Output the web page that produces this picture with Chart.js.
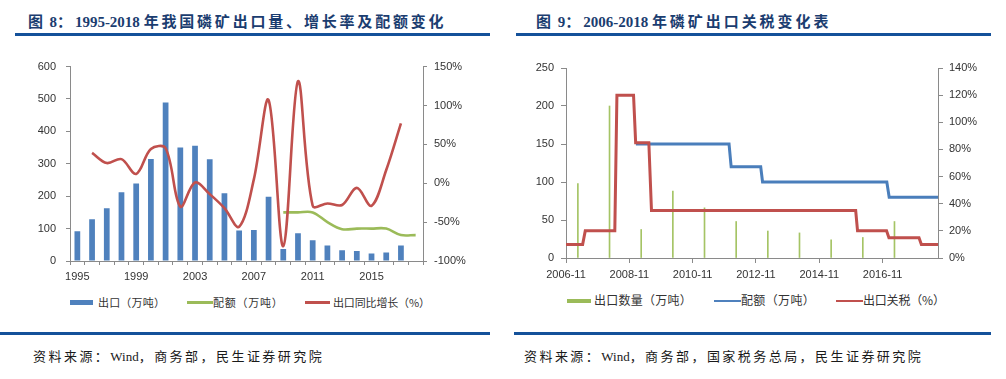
<!DOCTYPE html>
<html><head><meta charset="utf-8">
<script src="https://cdn.jsdelivr.net/npm/chart.js@4.4.1/dist/chart.umd.min.js"></script>
<style>
html,body{margin:0;padding:0;}
body{width:1006px;height:379px;background:#fff;position:relative;overflow:hidden;font-family:"Liberation Sans","Noto Sans CJK SC",sans-serif;}
.t{position:absolute;white-space:nowrap;}
.title{font-family:"Liberation Serif","Noto Sans CJK SC",serif;font-weight:bold;font-size:15px;color:#1b3d70;line-height:18px;}
.rule{position:absolute;height:3px;background:#14519a;}
.src{font-family:"Liberation Serif","Noto Sans CJK SC",serif;font-size:13px;color:#1a1a1a;line-height:16px;}
.leg{font-family:"Noto Sans CJK SC",sans-serif;color:#333;line-height:14px;}
.sw{position:absolute;}
.cv{position:absolute;}
.lat{letter-spacing:0px !important;}
</style></head><body>

<div class="t title fit" data-w="417" style="left:28px;top:13px;">图 8：1995-2018 年我国磷矿出口量、增长率及配额变化</div>
<div class="rule" style="left:15px;top:33px;width:475px;"></div>
<div class="t title fit" data-w="294" style="left:536px;top:13px;">图 9：2006-2018 年磷矿出口关税变化表</div>
<div class="rule" style="left:516px;top:33px;width:475px;"></div>

<canvas id="c1" class="cv" width="500" height="236" style="left:0px;top:50px;"></canvas>
<canvas id="c2" class="cv" width="501" height="236" style="left:505px;top:50px;"></canvas>

<!-- left legend -->
<div class="sw" style="left:70px;top:300px;width:23px;height:5px;background:#4f81bd;"></div>
<div class="t leg fit" data-w="67" style="left:98px;top:295px;font-size:11px;">出口（万吨）</div>
<div class="sw" style="left:187px;top:301px;width:26px;height:2.5px;background:#9bbb59;"></div>
<div class="t leg fit" data-w="70" style="left:213px;top:295px;font-size:11px;">配额（万吨）</div>
<div class="sw" style="left:305px;top:301px;width:25px;height:2.5px;background:#c0504d;"></div>
<div class="t leg fit" data-w="97" style="left:333px;top:295px;font-size:11px;">出口同比增长（%）</div>

<!-- right legend -->
<div class="sw" style="left:567px;top:298.5px;width:24px;height:4.5px;background:#9bbb59;"></div>
<div class="t leg fit" data-w="98" style="left:594px;top:293px;font-size:12px;">出口数量（万吨）</div>
<div class="sw" style="left:714px;top:299.5px;width:27px;height:2.5px;background:#4f81bd;"></div>
<div class="t leg fit" data-w="74" style="left:741px;top:293px;font-size:12px;">配额（万吨）</div>
<div class="sw" style="left:836px;top:299.5px;width:27px;height:2.5px;background:#c0504d;"></div>
<div class="t leg fit" data-w="82" style="left:863px;top:293px;font-size:12px;">出口关税（%）</div>

<div class="rule" style="left:0px;top:332px;width:490px;"></div>
<div class="rule" style="left:514px;top:332px;width:477px;"></div>
<div class="t src fit" data-w="290" style="left:33px;top:349px;">资料来源：Wind，商务部，民生证券研究院</div>
<div class="t src fit" data-w="398" style="left:524px;top:349px;">资料来源：Wind，商务部，国家税务总局，民生证券研究院</div>

<script>
// ---------- Chart 8 data ----------
const years = ['1995','1996','1997','1998','1999','2000','2001','2002','2003','2004','2005','2006','2007','2008','2009','2010','2011','2012','2013','2014','2015','2016','2017','2018'];
const exportVol = [92,129,163,212,239,315,489,350,356,314,209,94,96,198,37,86,64,48,33,31,23,26,48,null];
const quota = [null,null,null,null,null,null,null,null,null,null,null,null,null,null,150,150,150,120,98,100,100,100,80,80];
const growth = [null,39,26,31,12,44,45,-30,1,-14,-32,-56,5,107,-81,131,-29,-26,-28,-6,-29,17,77,null];
const leftTicks8 = {min:0, max:600, step:100};
const rightTicks8 = {min:-100, max:150, step:50};

// ---------- Chart 9 data ----------
// x positions are months after 2006-11
const xTickLabels = ['2006-11','2008-11','2010-11','2012-11','2014-11','2016-11'];
const volMonth = [4.5,16.5,28.5,40.5,52.5,64.5,76.5,88.5,100.5,112.5,124.5];
const volValue = [98,200,37.5,88,66,48,35.5,33,24,27,48];
const quotaMonth = [26.5,61.8,62.6,73.8,74.5,121.6,122.5,141];
const quotaValue = [150,150,120,120,100,100,80,80];
const tariffMonth = [0,6.3,7.3,18.5,19.3,25.6,26.4,31.4,32.4,109.8,110.5,121.5,122.4,133.8,134.7,141];
const tariffValue = [10,10,20,20,120,120,85,85,35,35,20,20,15,15,10,10];

// fit text widths: spacing only on CJK glyphs, latin runs kept tight
document.querySelectorAll('.fit').forEach(el=>{
  const txt = el.textContent;
  el.textContent = '';
  const runs = txt.match(/[\x20-\x7e]+|[^\x20-\x7e]+/g) || [];
  let nCjk = 0;
  runs.forEach(r=>{
    const sp = document.createElement('span');
    sp.textContent = r;
    if(/^[\x20-\x7e]+$/.test(r)) sp.className='lat'; else nCjk += [...r].length;
    el.appendChild(sp);
  });
  const target = +el.dataset.w;
  el.style.letterSpacing='0px';
  const w = el.getBoundingClientRect().width;
  if(nCjk>1) el.style.letterSpacing = ((target-w)/(nCjk-0.5)).toFixed(2)+'px';
});

const AX = '#8a8a8a';
const TXT = '#333';
const tickFont = {family:'"Liberation Sans", Arial, sans-serif', size:11};

function yAxis(pos, cfg, width, fmt, tl, pad){
  return {
    position:pos, min:cfg.min, max:cfg.max,
    ticks:{stepSize:cfg.step, color:TXT, font:tickFont, padding:pad, callback:fmt},
    grid:{drawOnChartArea:false, tickLength:tl, color:AX},
    border:{color:AX},
    afterFit:s=>{s.width=width;}
  };
}

new Chart(document.getElementById('c1'), {
  type:'bar',
  data:{labels:years, datasets:[
    {type:'line', data:growth, yAxisID:'y1', borderColor:'#c0504d', borderWidth:2.6, pointRadius:0, tension:0.35, order:1},
    {type:'line', data:quota, yAxisID:'y', borderColor:'#9bbb59', borderWidth:2.6, pointRadius:0, tension:0.35, order:2},
    {type:'bar', data:exportVol, yAxisID:'y', backgroundColor:'#4f81bd', barPercentage:0.39, categoryPercentage:1, order:3}
  ]},
  options:{
    responsive:false, animation:false, devicePixelRatio:1,
    layout:{padding:{left:20,right:27,top:16,bottom:0}},
    plugins:{legend:{display:false}, tooltip:{enabled:false}},
    scales:{
      x:{offset:true, grid:{offset:true, drawOnChartArea:false, tickLength:4, color:AX}, border:{color:AX},
         ticks:{autoSkip:false, maxRotation:0, padding:5, color:TXT, font:tickFont, callback:(v,i)=> i%4===0 ? years[i] : ''},
         afterFit:s=>{s.height=25;}},
      y: yAxis('left', leftTicks8, 50, v=>v, 4, 10),
      y1: yAxis('right', rightTicks8, 50, v=>v+'%', 4, 7)
    }
  }
});

new Chart(document.getElementById('c2'), {
  type:'bar',
  data:{datasets:[
    {type:'line', data:tariffMonth.map((m,i)=>({x:m,y:tariffValue[i]})), yAxisID:'y1', borderColor:'#c0504d', borderWidth:3, pointRadius:0, tension:0, order:1},
    {type:'line', data:quotaMonth.map((m,i)=>({x:m,y:quotaValue[i]})), yAxisID:'y', borderColor:'#4a7ebb', borderWidth:3, pointRadius:0, tension:0, order:2},
    {type:'bar', data:volMonth.map((m,i)=>({x:m,y:volValue[i]})), yAxisID:'y', backgroundColor:'#a5c465', barThickness:1, order:3}
  ]},
  options:{
    responsive:false, animation:false, devicePixelRatio:1,
    layout:{padding:{left:11,right:18,top:18,bottom:0}},
    plugins:{legend:{display:false}, tooltip:{enabled:false}},
    scales:{
      x:{type:'linear', min:0, max:141, offset:false,
         grid:{offset:false, drawOnChartArea:false, tickLength:5, color:AX}, border:{color:AX},
         ticks:{stepSize:24, includeBounds:false, autoSkip:false, maxRotation:0, padding:5, color:TXT, font:tickFont,
                callback:v=> (v%24===0 && xTickLabels[v/24]!==undefined) ? xTickLabels[v/24] : ''},
         afterFit:s=>{s.height=28;}},
      y: yAxis('left', {min:0,max:250,step:50}, 50, v=>v, 5, 7),
      y1: yAxis('right', {min:0,max:140,step:20}, 50, v=>v+'%', 5, 6)
    }
  }
});
</script>
</body></html>
